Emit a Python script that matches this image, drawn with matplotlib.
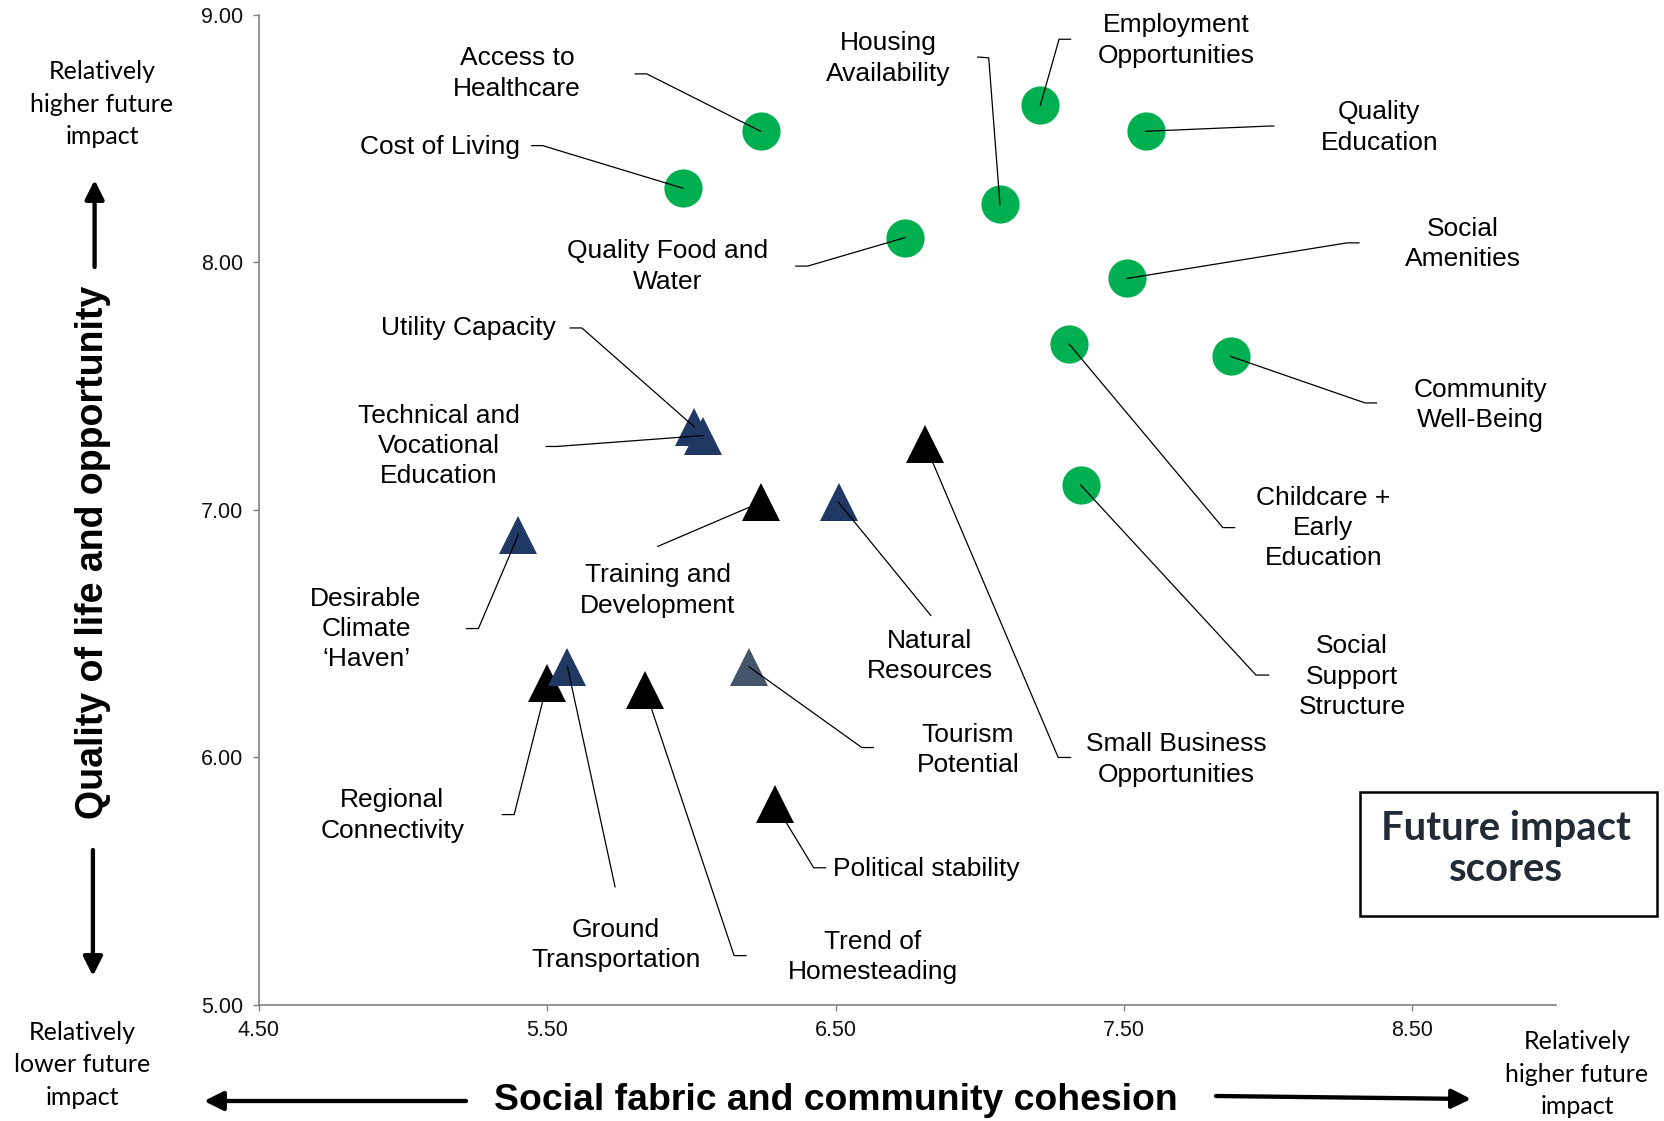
import matplotlib
matplotlib.use('Agg')
import matplotlib.pyplot as plt
from matplotlib.patches import Rectangle

plt.rcParams['font.family'] = ['Liberation Sans', 'DejaVu Sans']

# future impact scores
factors = ['Access to\nHealthcare', 'Cost of Living', 'Quality Food and\nWater',
           'Housing\nAvailability', 'Employment\nOpportunities', 'Quality\nEducation',
           'Social\nAmenities', 'Community\nWell-Being', 'Childcare +\nEarly\nEducation',
           'Social\nSupport\nStructure', 'Utility Capacity',
           'Technical and\nVocational\nEducation', 'Training and\nDevelopment',
           'Natural\nResources', 'Small Business\nOpportunities',
           'Desirable\nClimate\n\u2018Haven\u2019', 'Regional\nConnectivity',
           'Ground\nTransportation', 'Trend of\nHomesteading', 'Tourism\nPotential',
           'Political stability']
social = [6.24, 5.97, 6.74, 7.07, 7.21, 7.575, 7.51, 7.87, 7.31, 7.35,
          6.01, 6.04, 6.24, 6.51, 6.81, 5.40, 5.50, 5.57, 5.84, 6.20, 6.29]
quality = [8.53, 8.30, 8.10, 8.235, 8.635, 8.53, 7.935, 7.62, 7.67, 7.10,
           7.335, 7.30, 7.03, 7.03, 7.265, 6.90, 6.30, 6.365, 6.27, 6.365, 5.81]
group = ['g'] * 10 + ['n', 'n', 'k', 'n', 'k', 'n', 'k', 'n', 'k', 's', 'k']

styles = {'g': ('o', '#00B050'), 'n': ('^', '#203864'),
          'k': ('^', '#000000'), 's': ('^', '#44546A')}

# label centre, then leader line elbow and end (data units)
labels = [
    ((5.395, 8.764), [(5.845, 8.762), (5.805, 8.762)]),
    ((5.128, 8.468), [(5.484, 8.472), (5.446, 8.472)]),
    ((5.917, 7.983), [(6.403, 7.985), (6.362, 7.985)]),
    ((6.683, 8.824), [(7.031, 8.827), (6.993, 8.830)]),
    ((7.682, 8.897), [(7.275, 8.902), (7.315, 8.902)]),
    ((8.386, 8.545), [(8.000, 8.551), (8.020, 8.551)]),
    ((8.676, 8.073), [(8.274, 8.079), (8.315, 8.079)]),
    ((8.735, 7.425), [(8.336, 7.432), (8.376, 7.432)]),
    ((8.192, 6.927), [(7.843, 6.928), (7.884, 6.928)]),
    ((8.291, 6.326), [(7.958, 6.332), (8.002, 6.332)]),
    ((5.227, 7.734), [(5.620, 7.735), (5.579, 7.735)]),
    ((5.124, 7.258), [(5.533, 7.256), (5.496, 7.256)]),
    ((5.883, 6.674), [(5.883, 6.852)]),
    ((6.827, 6.408), [(6.830, 6.573)]),
    ((7.682, 5.991), [(7.272, 5.999), (7.315, 5.999)]),
    ((4.871, 6.519), [(5.261, 6.520), (5.220, 6.520)]),
    ((4.962, 5.764), [(5.385, 5.768), (5.344, 5.768)]),
    ((5.737, 5.240), [(5.735, 5.476)]),
    ((6.628, 5.193), [(6.148, 5.198), (6.189, 5.198)]),
    ((6.959, 6.030), [(6.591, 6.039), (6.631, 6.039)]),
    ((6.816, 5.549), [(6.424, 5.553), (6.465, 5.553)]),
]

W, H = 1665, 1121
fig = plt.figure(figsize=(W / 100, H / 100), dpi=100)
ax = fig.add_axes([259 / W, 116.4 / H, 1297.4 / W, 989.6 / H])

for i in range(len(factors)):
    m, c = styles[group[i]]
    ax.plot(social[i], quality[i], marker=m, color=c, markersize=27.5,
            markeredgewidth=0, linestyle='none', zorder=2)
    (tx, ty), path = labels[i]
    xs = [social[i]] + [p[0] for p in path]
    ys = [quality[i]] + [p[1] for p in path]
    ax.plot(xs, ys, color='black', lw=0.9, zorder=3, clip_on=False)
    ax.text(tx, ty, factors[i], ha='center', va='center', fontsize=19,
            multialignment='center', linespacing=1.33, zorder=4)

ax.set_xlim(4.5, 9.0)
ax.set_ylim(5.0, 9.0)
ax.set_xticks([4.5, 5.5, 6.5, 7.5, 8.5])
ax.set_xticklabels(['4.50', '5.50', '6.50', '7.50', '8.50'])
ax.set_yticks([5, 6, 7, 8, 9])
ax.set_yticklabels(['5.00', '6.00', '7.00', '8.00', '9.00'])
ax.tick_params(direction='out', length=4.3, width=1, color='#808080',
               labelsize=15.5, labelcolor='#111111', pad=7)
for s in ['top', 'right']:
    ax.spines[s].set_visible(False)
for s in ['left', 'bottom']:
    ax.spines[s].set_color('#808080')
    ax.spines[s].set_linewidth(1.2)

# axis titles
fig.text(836 / W, 1 - 1100 / H, 'Social fabric and community cohesion',
         ha='center', va='center', fontsize=26.9, fontweight='bold')
fig.text(93.5 / W, 1 - 552 / H, 'Quality of life and opportunity',
         ha='center', va='center', fontsize=27, fontweight='bold', rotation=90)

# corner notes
note_font = ['Lato', 'DejaVu Sans']
fig.text(102 / W, 1 - 104 / H, 'Relatively\nhigher future\nimpact', ha='center',
         va='center', fontsize=18, family=note_font, linespacing=1.48)
fig.text(82 / W, 1 - 1065 / H, 'Relatively\nlower future\nimpact', ha='center',
         va='center', fontsize=18, family=note_font, linespacing=1.48)
fig.text(1577 / W, 1 - 1074 / H, 'Relatively\nhigher future\nimpact', ha='center',
         va='center', fontsize=18, family=note_font, linespacing=1.48)

# direction arrows
def arrow(tail, tip):
    fig.add_artist(matplotlib.patches.FancyArrowPatch(
        (tail[0], H - tail[1]), (tip[0], H - tip[1]), transform=None,
        arrowstyle='-|>,head_length=0.5,head_width=0.25', mutation_scale=23,
        lw=3.1, color='black', shrinkA=0, shrinkB=0))

arrow((94.6, 267), (94.6, 180))
arrow((92.9, 850), (92.9, 976))
arrow((466, 1101), (204, 1101))
arrow((1216, 1096), (1471, 1099))

# legend-like box
fig.add_artist(Rectangle((1360 / W, 1 - 916 / H), 297 / W, 124 / H,
                         transform=fig.transFigure, fill=False,
                         edgecolor='black', lw=1.8))
fig.text(1506 / W, 1 - 849 / H, 'Future impact\nscores', ha='center',
         va='center', fontsize=28.8, fontweight='bold', color='#222A35',
         family=note_font, linespacing=1.15)

fig.savefig('out.png', dpi=100)
